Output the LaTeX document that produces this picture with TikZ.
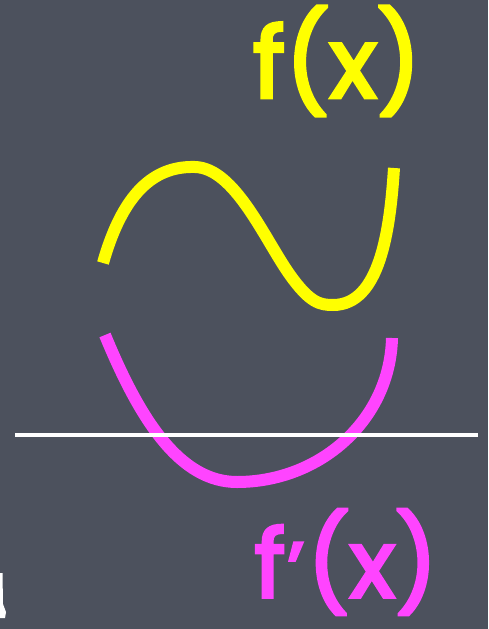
\documentclass[tikz,border=0pt]{standalone}
\usepackage{fontspec}
\newfontfamily\chalk{Poppins}[FakeBold=3.5]
\definecolor{board}{HTML}{4C515D}
\definecolor{fyellow}{HTML}{FFFF00}
\definecolor{fmag}{HTML}{FF44FF}
\begin{document}
\begin{tikzpicture}[x=1pt,y=-1pt,
  curve/.style={line width=12pt,line cap=butt},
  label/.style={inner sep=0pt,font=\chalk\fontsize{98}{98}\selectfont}]
\fill[board] (0,0) rectangle (488,629);
\useasboundingbox (0,0) rectangle (488,629);
% yellow f(x)
\draw[curve,fyellow] (103,263) .. controls (125,185) and (160,166) .. (195,167)
  .. controls (235,168) and (265,240) .. (290,275)
  .. controls (310,303) and (320,305) .. (333,305)
  .. controls (380,305) and (390,230) .. (394,168);
% magenta f'(x)
\draw[curve,fmag] (105,335) .. controls (140,420) and (180,482) .. (237,482)
  .. controls (320,482) and (390,420) .. (392,338);
% axis
\draw[white,line width=4pt] (15,435) -- (478,435);
% labels
\node[label,text=fyellow,anchor=center] (fx) at (337,61) {f(x)};
\node[label,text=fmag,anchor=center,font=\chalk\fontsize{94}{94}\selectfont] (fpx) at (346,562) {f\kern0.02em{\fontsize{78}{78}\selectfont\char"2019}\kern0.03em(x)};
% chalk mark bottom left
\fill[white] (0,573) -- (2.5,573) -- (3,604) -- (6,612) -- (5,618) -- (0,618) -- cycle;
\end{tikzpicture}
\end{document}
